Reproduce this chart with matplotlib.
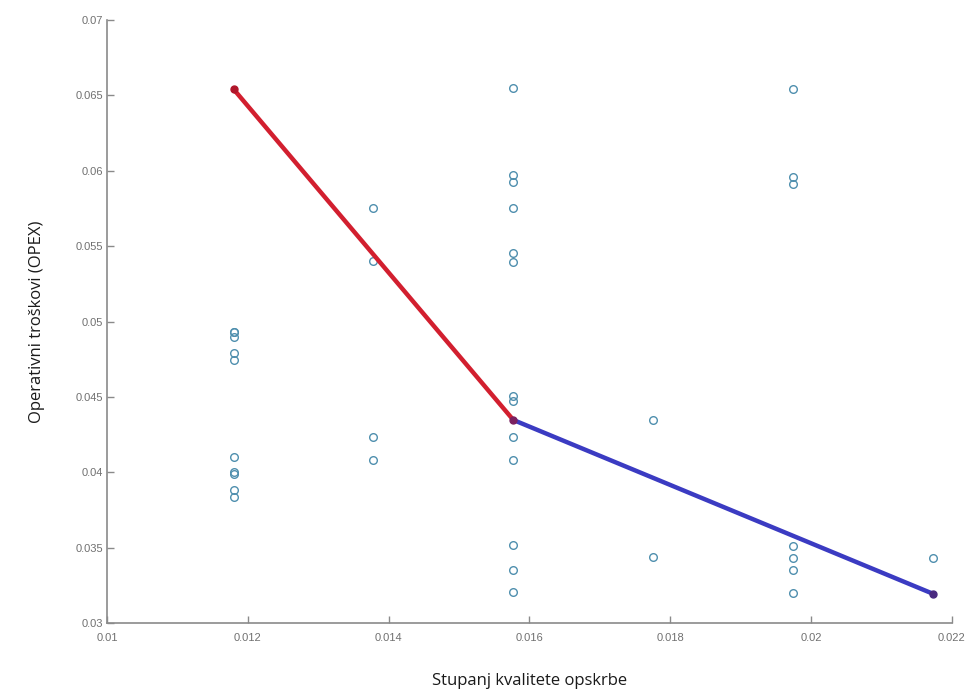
import matplotlib
matplotlib.use("Agg")
import matplotlib.pyplot as plt
import numpy as np

# Scatter data (x = quality of supply, y = OPEX)
scatter_x = (
    [0.0118] * 10
    + [0.01378] * 4
    + [0.01577] * 13
    + [0.01775] * 2
    + [0.01974] * 7
    + [0.02173] * 1
)
scatter_y = (
    [0.0493, 0.0490, 0.0479, 0.04745, 0.0410, 0.0400, 0.0399, 0.0388, 0.03838, 0.0493]
    + [0.0575, 0.0540, 0.04237, 0.04082]
    + [0.0655, 0.0597, 0.05927, 0.0575, 0.05457, 0.05397, 0.04506, 0.04473,
       0.04236, 0.04081, 0.03518, 0.03352, 0.03208]
    + [0.04346, 0.03439]
    + [0.06542, 0.05961, 0.05912, 0.03512, 0.0343, 0.03353, 0.03202]
    + [0.03434]
)

# Frontier segments
red_x = [0.0118, 0.01577]
red_y = [0.0654, 0.04347]
blue_x = [0.01577, 0.02173]
blue_y = [0.04347, 0.03194]

x_ticks = [0.01, 0.012, 0.014, 0.016, 0.018, 0.02, 0.022]
x_ticklabels = ["0.01", "0.012", "0.014", "0.016", "0.018", "0.02", "0.022"]
y_ticks = [0.03, 0.035, 0.04, 0.045, 0.05, 0.055, 0.06, 0.065, 0.07]
y_ticklabels = ["0.03", "0.035", "0.04", "0.045", "0.05", "0.055", "0.06", "0.065", "0.07"]

fig = plt.figure(figsize=(9.79, 6.93), dpi=100)
ax = fig.add_axes([0.1093, 0.101, 0.8631, 0.8701])

ax.plot(scatter_x, scatter_y, linestyle="none", marker="o", markersize=5.5,
        markerfacecolor="none", markeredgecolor="#4f8fae", markeredgewidth=1.0)

ax.plot(red_x, red_y, color="#d21f2f", linewidth=3.2, solid_capstyle="round", zorder=3)
ax.plot(blue_x, blue_y, color="#3b3bc2", linewidth=3.2, solid_capstyle="round", zorder=3)
ax.plot([red_x[0]], [red_y[0]], marker="o", markersize=5, color="#b0162a", zorder=4)
ax.plot([blue_x[0]], [blue_y[0]], marker="o", markersize=5, color="#7a2060", zorder=4)
ax.plot([blue_x[-1]], [blue_y[-1]], marker="o", markersize=5, color="#4a2a80", zorder=4)

ax.set_xlim(0.01, 0.022)
ax.set_ylim(0.03, 0.07)
ax.set_xticks(x_ticks)
ax.set_xticklabels(x_ticklabels, family="Liberation Sans")
ax.set_yticks(y_ticks)
ax.set_yticklabels(y_ticklabels, family="Liberation Sans")

for s in ["top", "right"]:
    ax.spines[s].set_visible(False)
for s in ["left", "bottom"]:
    ax.spines[s].set_color("#8a8a8a")
    ax.spines[s].set_linewidth(1.2)

ax.tick_params(axis="both", direction="in", length=5, width=1, color="#8a8a8a",
               labelcolor="#707070", labelsize=8)
ax.tick_params(axis="x", pad=7)
ax.tick_params(axis="y", pad=3)

ax.set_xlabel("Stupanj kvalitete opskrbe", fontsize=12, family="Open Sans",
              color="#1a1a1a", labelpad=22)
ax.set_ylabel("Operativni troškovi (OPEX)", fontsize=12, family="Open Sans",
              color="#1a1a1a", labelpad=22)

fig.savefig("out.png", dpi=100)
